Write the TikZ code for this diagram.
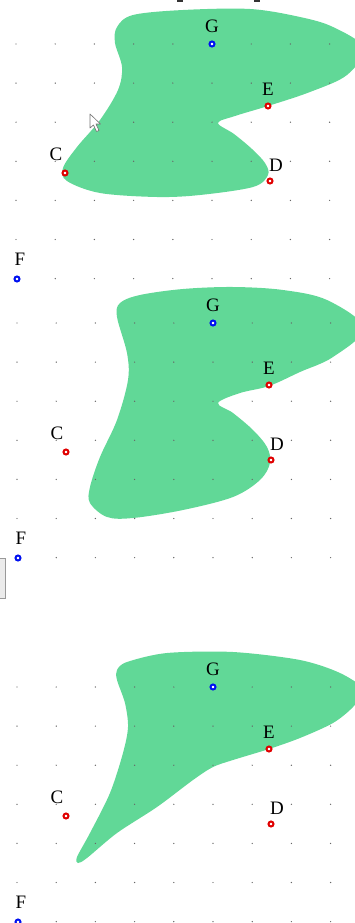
\documentclass[tikz,border=0pt]{standalone}
\usepackage{fontspec}
\setmainfont{Liberation Serif}
\usetikzlibrary{positioning}
\definecolor{regionGreen}{HTML}{61D897}
\definecolor{pointRed}{HTML}{E00000}
\definecolor{pointBlue}{HTML}{0010F0}

\begin{document}
\begin{tikzpicture}[
    x=1pt, y=-1pt,
    every node/.style={font=\fontsize{19}{22}\selectfont},
    region/.style={fill=regionGreen, draw=none},
    gdot/.style={fill=black!60, draw=none},
    redpt/.style={circle, draw=pointRed, line width=2pt, fill=white, minimum size=5pt, inner sep=0pt},
    bluept/.style={redpt, draw=pointBlue},
    lbl/.style={inner sep=0pt}
  ]
    \useasboundingbox (0,0) rectangle (355,923);
    \clip (0,0) rectangle (355,923);

    % green regions
    \fill[region] plot[smooth cycle, tension=0.55] coordinates {
      (117,27) (133,15) (183,10) (250,9) (300,17) (333,27) (364,48) (347,75)
      (310,92) (268,106) (235,116) (218,123) (234,134) (252,149) (265,163)
      (268,175) (253,187) (200,195) (157,197) (100,193) (67,181) (63,168)
      (77,147) (100,120) (118,90) (122,67) (115,43)};
    \fill[region] plot[smooth cycle, tension=0.55] coordinates {
      (120,303) (140,295) (183,289) (233,287) (283,290) (327,300) (364,328)
      (333,357) (300,372) (269,386) (240,393) (218,403) (233,413) (253,430)
      (267,447) (270,463) (260,480) (233,497) (183,510) (133,518) (107,517)
      (90,503) (90,487) (100,457) (117,420) (128,380) (127,353) (117,317)};
    \fill[region] plot[smooth cycle, tension=0.5] coordinates {
      (117,670) (127,662) (167,653) (233,652) (300,660) (340,673) (364,690)
      (353,707) (333,723) (300,738) (269,749) (233,760) (213,767) (193,780)
      (157,807) (117,833) (87,858) (78,863) (77,857) (90,833) (110,793)
      (123,753) (128,727) (125,703) (117,680)};

    % grid, points and labels of each panel
    \foreach \n/\ox/\oy in {1/212/44, 2/213/323, 3/213/687} {
      \begin{scope}[shift={(\ox,\oy)}]
        \foreach \i in {0,...,8}
          \foreach \j in {0,...,6}
            \fill[gdot] (-196+39.2*\i, 39.1*\j) circle (0.7);
        \node[bluept] (G\n) at (0,0) {};
        \node[redpt] (E\n) at (56,62) {};
        \node[redpt] (C\n) at (-147,129) {};
        \node[redpt] (D\n) at (58,137) {};
        \node[bluept] (F\n) at (-195,235) {};
        \node[lbl, above=7.5pt of G\n] {G};
        \node[lbl, above=6.5pt of E\n] {E};
        \node[lbl, above=8.5pt of C\n, xshift=-9pt] {C};
        \node[lbl, above=5.5pt of D\n, xshift=6pt] {D};
        \node[lbl, above=9.5pt of F\n, xshift=3pt] {F};
      \end{scope}
    }

    % mouse pointer
    \filldraw[fill=white, draw=black!55, line width=0.6pt, line join=round]
      (90,114) -- (90,128) -- (93.5,125) -- (96.5,131.5) -- (99,130.5)
      -- (96,124) -- (100.5,124) -- cycle;
    % widget edge and cut title
    \filldraw[fill=black!8, draw=black!40] (-2,558) rectangle (5,598);
    \fill[black!80] (177,0) rectangle (183,2.5);
    \fill[black!80] (254,0) rectangle (260,2.5);
  \end{tikzpicture}
\end{document}
